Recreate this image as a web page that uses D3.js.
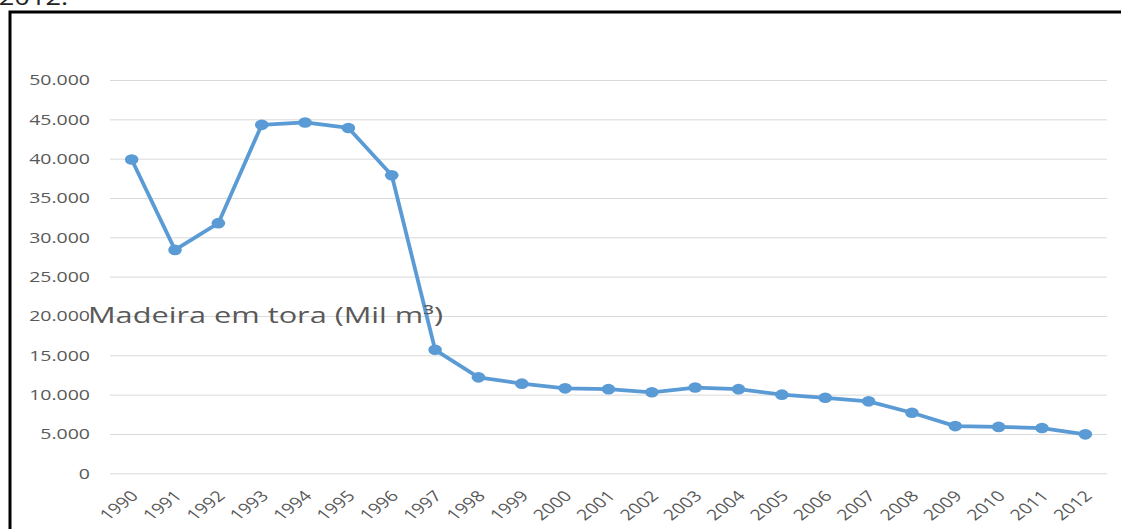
<!DOCTYPE html>
<html>
<head>
<meta charset="utf-8">
<script src="https://cdnjs.cloudflare.com/ajax/libs/d3/7.8.5/d3.min.js"></script>
<style>
    body { margin: 0; background: #fff; overflow: hidden; }
    svg { display: block; font-family: "Open Sans", sans-serif; }
</style>
</head>
<body>
<div id="chart"></div>
<script>
var years = ["1990", "1991", "1992", "1993", "1994", "1995", "1996", "1997", "1998", "1999", "2000",
    "2001", "2002", "2003", "2004", "2005", "2006", "2007", "2008", "2009", "2010", "2011", "2012"];

var madeira = [39900, 28400, 31800, 44300, 44600, 43900, 37900, 15700, 12200, 11400, 10800,
    10700, 10300, 10900, 10700, 10000, 9600, 9150, 7700, 6000, 5900, 5750, 4950];

var yTicks = [0, 5000, 10000, 15000, 20000, 25000, 30000, 35000, 40000, 45000, 50000];

var seriesTitle = "Madeira em tora (Mil m\u00B3)";

var svg = d3.select("#chart")
    .append("svg")
    .attr("width", 1121)
    .attr("height", 529);

// the picture is stretched sideways, so is the text
var stretch = 1.3;
var margin = {top: 80, right: 14, bottom: 529 - 473.3, left: 110};
var width = 1121 - margin.left - margin.right;
var height = 529 - margin.top - margin.bottom;

// caption text cut off at the top of the page
svg.append("text")
    .attr("x", -1)
    .attr("y", 5)
    .attr("font-size", 21)
    .attr("fill", "#222")
    .attr("transform", "scale(" + stretch + ",1)")
    .text("2012.");

// frame
svg.append("path")
    .attr("d", "M10,535 L10,12 L1130,12")
    .attr("fill", "none")
    .attr("stroke", "#000")
    .attr("stroke-width", 3);

var g = svg.append("g")
    .attr("transform", "translate(" + margin.left + "," + margin.top + ")");

var x = d3.scaleBand()
    .domain(years)
    .range([0, width])
    .padding(0);

var y = d3.scaleLinear()
    .domain([0, 50000])
    .range([height, 0]);

var ptbr = d3.formatLocale({decimal: ",", thousands: ".", grouping: [3], currency: ["R$", ""]});
var fmt = ptbr.format(",");

// grid lines
g.append("g")
    .attr("class", "grid")
    .call(d3.axisLeft(y).tickValues(yTicks).tickSize(-width).tickFormat(""))
    .call(function(s) { s.select(".domain").remove(); })
    .selectAll("line")
    .attr("stroke", "#d9d9d9")
    .attr("stroke-width", 1);

// y labels
g.append("g")
    .call(d3.axisLeft(y).tickValues(yTicks).tickSize(0).tickFormat(fmt))
    .call(function(s) { s.select(".domain").remove(); })
    .selectAll("text")
    .attr("x", 0)
    .attr("font-family", "Open Sans")
    .attr("font-size", 15)
    .attr("fill", "#595959")
    .attr("transform", "translate(-20,0) scale(" + stretch + ",1)");

// x labels
var xAxis = g.append("g")
    .attr("transform", "translate(0," + height + ")")
    .call(d3.axisBottom(x).tickSize(0))
    .call(function(s) { s.select(".domain").remove(); });

xAxis.selectAll("text")
    .attr("x", 0)
    .attr("y", 0)
    .attr("dy", "0.35em")
    .attr("text-anchor", "end")
    .attr("font-family", "Open Sans")
    .attr("font-size", 15)
    .attr("fill", "#595959")
    .attr("transform", "translate(3,20) scale(" + stretch + ",1) rotate(-45)");

// line + markers
var cx = function(d, i) { return x(years[i]) + x.bandwidth() / 2; };

var line = d3.line()
    .x(cx)
    .y(function(d) { return y(d); });

g.append("path")
    .datum(madeira)
    .attr("d", line)
    .attr("fill", "none")
    .attr("stroke", "#5b9bd5")
    .attr("stroke-width", 3.8)
    .attr("stroke-linejoin", "round");

g.selectAll("ellipse.pt")
    .data(madeira)
    .enter().append("ellipse")
    .attr("class", "pt")
    .attr("cx", cx)
    .attr("cy", function(d) { return y(d); })
    .attr("rx", 6.8)
    .attr("ry", 5.3)
    .attr("fill", "#5b9bd5");

// series name sitting over the 20.000 label
svg.append("text")
    .attr("x", 88)
    .attr("y", 323)
    .attr("font-size", 21)
    .attr("fill", "#595959")
    .attr("textLength", 355)
    .attr("lengthAdjust", "spacingAndGlyphs")
    .text(seriesTitle);
</script>
</body>
</html>
